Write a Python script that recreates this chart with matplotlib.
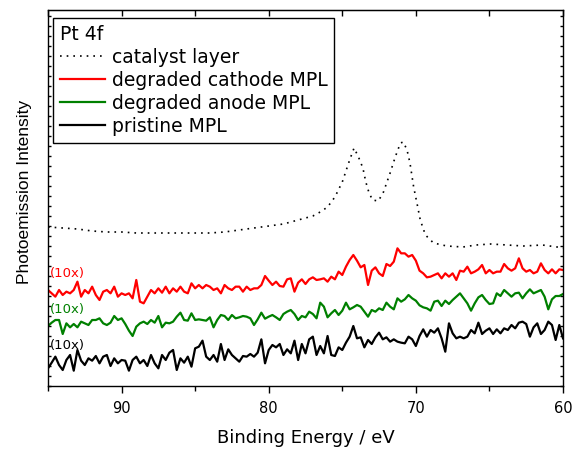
import numpy as np
import matplotlib
matplotlib.use("Agg")
import matplotlib.pyplot as plt
from matplotlib.ticker import MultipleLocator

# ---------------- data ----------------
# binding-energy grid of the MPL spectra (eV), 95 -> 60 in 0.25 eV steps
energy = np.round(np.arange(95.0, 59.99, -0.25), 2)

cathode_mpl = [
    288, 278, 268, 288, 273, 283, 278, 288, 313, 268,
    288, 278, 298, 273, 258, 283, 288, 278, 298, 268,
    278, 273, 278, 263, 318, 253, 248, 268, 288, 278,
    293, 280, 298, 278, 293, 283, 298, 283, 278, 308,
    293, 303, 293, 303, 298, 288, 293, 278,
    303, 293, 288, 298, 298, 283, 298, 288, 293, 293,
    303, 330, 316, 303, 313, 300, 298, 320, 323, 283,
    310, 320, 306, 320, 326, 318, 320, 323, 313, 328,
    320, 343, 333, 358, 378, 393, 376, 356, 363, 303,
    346, 356, 338, 330, 366, 360, 373, 413, 398,
    398, 388, 393, 376, 346, 338, 326, 328, 333, 338,
    323, 338, 328, 338, 318, 346, 343, 358, 338, 343,
    350, 363, 338, 348, 338, 343, 343, 366, 353, 346,
    353, 383, 353, 343, 348, 338, 343, 368, 348, 338,
    350, 338, 350, 348,
]

anode_mpl = [
    180, 190, 198, 198, 156, 188, 176, 186, 176, 193,
    188, 183, 198, 198, 203, 188, 183, 190, 210, 198,
    203, 186, 166, 150, 178, 188, 193, 186, 198, 190,
    210, 176, 190, 188, 193, 208, 220, 198, 196, 218,
    198, 200, 198, 196, 206, 176, 198, 213,
    210, 198, 213, 203, 206, 210, 208, 203, 183, 200,
    220, 202, 208, 213, 206, 198, 216, 223, 228, 216,
    198, 210, 206, 223, 216, 203, 250, 238, 206, 218,
    228, 213, 226, 250, 230, 236, 243, 238, 223, 208,
    228, 223, 233, 228, 250, 238, 230, 263, 253,
    260, 273, 263, 256, 242, 236, 233, 226, 253, 256,
    240, 256, 246, 258, 268, 278, 263, 248, 226, 248,
    266, 273, 258, 246, 248, 278, 270, 288, 278, 268,
    278, 280, 263, 278, 290, 278, 283, 288, 268, 230,
    260, 270, 270, 276,
]

pristine_mpl = [
    53, 70, 88, 63, 48, 78, 93, 46, 108, 76,
    63, 83, 76, 90, 68, 88, 93, 60, 83, 68,
    78, 76, 46, 78, 88, 68, 78, 60, 93, 68,
    53, 93, 78, 100, 108, 48, 83, 70, 88, 58,
    113, 118, 136, 88, 78, 93, 73, 126,
    78, 110, 93, 83, 73, 90, 88, 96, 88, 100,
    140, 68, 108, 123, 116, 126, 93, 110, 98, 136,
    78, 126, 98, 140, 148, 93, 120, 98, 150, 93,
    90, 116, 108, 130, 148, 180, 143, 146, 116, 138,
    126, 146, 160, 140, 146, 133, 140, 133, 130,
    128, 148, 140, 120, 150, 170, 148, 168, 160, 173,
    143, 103, 188, 158, 143, 148, 143, 148, 168, 158,
    190, 156, 166, 173, 156, 170, 158, 173, 168, 183,
    173, 190, 193, 186, 148, 176, 188, 156, 168, 193,
    183, 138, 183, 143,
]

catalyst_energy = [
    95, 94, 93, 92, 91, 90, 89, 88, 87, 86,
    85, 84, 83, 82, 81, 80, 79, 78, 77.5, 77,
    76.5, 76, 75.5, 75, 74.5, 74.2, 73.9, 73.6, 73.4, 73.2,
    72.95, 72.55, 72.2, 71.75, 71.4, 71.05, 70.85, 70.6, 70.4, 70.15,
    69.9, 69.7, 69.35, 68.8, 67.9, 66.8, 65.9, 64.9, 63.8, 62.7,
    61.4, 60.4, 60,
]
catalyst_layer = [
    477, 474, 471, 465, 462, 462, 459, 459, 459, 459,
    459, 459, 462, 468, 474, 480, 486, 498, 504, 510,
    522, 537, 567, 612, 678, 714, 687, 654, 612, 582,
    558, 555, 582, 639, 687, 729, 732, 708, 669, 597,
    543, 498, 453, 429, 420, 417, 423, 426, 423, 420,
    423, 417, 414,
]

labels = ["catalyst layer", "degraded cathode MPL", "degraded anode MPL", "pristine MPL"]
scale_note = "(10x)"

# ---------------- figure ----------------
plt.rcParams["font.family"] = ["DejaVu Sans"]
fig = plt.figure(figsize=(5.73, 4.5), dpi=100)
ax = fig.add_axes([48 / 573, 1 - 386 / 450, 515 / 573, 376 / 450])

l_cat, = ax.plot(catalyst_energy, catalyst_layer, color="black", lw=1.2,
                 linestyle=(0, (1, 3)), label=labels[0])
l_red, = ax.plot(energy, cathode_mpl, color="#ff0000", lw=1.6, label=labels[1])
l_grn, = ax.plot(energy, anode_mpl, color="#008000", lw=1.6, label=labels[2])
l_blk, = ax.plot(energy, pristine_mpl, color="black", lw=1.6, label=labels[3])

ax.set_xlim(95, 60)
ax.set_ylim(0, 1128)

ax.xaxis.set_major_locator(MultipleLocator(10))
ax.xaxis.set_minor_locator(MultipleLocator(5))
ax.tick_params(axis="x", which="major", direction="out", length=5, width=1,
               pad=6, labelsize=10.5, top=False)
ax.tick_params(axis="x", which="minor", direction="out", length=3.5, width=1, top=False)
ax.yaxis.set_major_locator(MultipleLocator(30))
ax.tick_params(axis="y", which="major", direction="in", length=2, width=1,
               left=True, right=True, labelleft=False)

sec = ax.secondary_xaxis("top")
sec.xaxis.set_major_locator(MultipleLocator(10))
sec.xaxis.set_minor_locator(MultipleLocator(5))
sec.tick_params(which="both", direction="in", length=4, width=1, labeltop=False)

for sp in ax.spines.values():
    sp.set_linewidth(1.0)

ax.text(94.85, 339, scale_note, color="#ff0000", fontsize=9.5, va="center", ha="left")
ax.text(94.85, 229, scale_note, color="#008000", fontsize=9.5, va="center", ha="left")
ax.text(94.85, 120, scale_note, color="black", fontsize=9.5, va="center", ha="left")

ax.set_xlabel("Binding Energy / eV", fontsize=13, labelpad=9)
ax.set_ylabel("Photoemission Intensity", fontsize=12.5, family=["Liberation Sans", "DejaVu Sans"])
ax.yaxis.set_label_coords(-0.031, 0.515)

leg = ax.legend(handles=[l_cat, l_red, l_grn, l_blk], title="Pt 4f",
                loc="upper left", bbox_to_anchor=(5 / 515, 368 / 376),
                borderaxespad=0, fancybox=False, edgecolor="black", framealpha=1,
                fontsize=13.5, title_fontsize=13.5, alignment="left",
                handlelength=2.4, handletextpad=0.4, labelspacing=0.22,
                borderpad=0.35)
leg.get_frame().set_linewidth(1.0)

fig.savefig("out.png", dpi=100)
